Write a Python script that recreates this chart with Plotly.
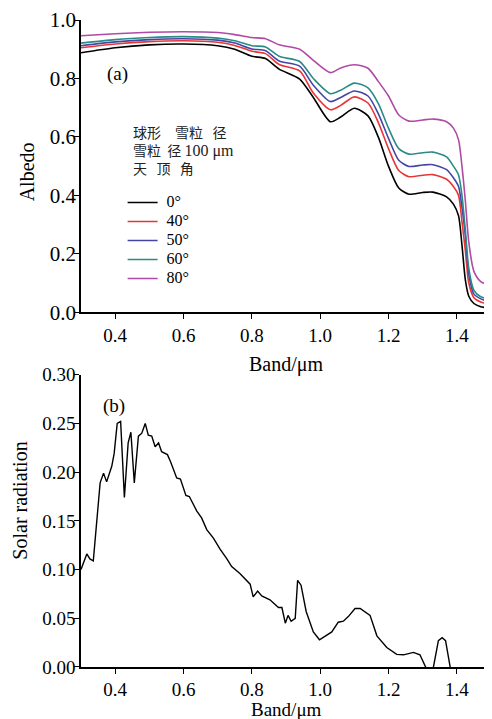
import plotly.graph_objects as go
from plotly.subplots import make_subplots

# ── (a) albedo vs band, spherical grains 100 µm, by zenith angle ─────────────
band_a = [0.30, 0.40, 0.50, 0.60, 0.70, 0.75, 0.80, 0.84, 0.88, 0.94, 0.98,
          1.03, 1.06, 1.10, 1.14, 1.17, 1.20, 1.23, 1.26, 1.30, 1.33, 1.37,
          1.39, 1.405, 1.415, 1.425, 1.435, 1.45, 1.47, 1.50]

albedo_0 = [0.888, 0.905, 0.915, 0.918, 0.912, 0.900, 0.876, 0.868, 0.832, 0.798, 0.735,
            0.652, 0.668, 0.698, 0.672, 0.600, 0.500, 0.425, 0.404, 0.410, 0.411, 0.395,
            0.370, 0.330, 0.230, 0.110, 0.055, 0.030, 0.019, 0.013]
albedo_40 = [0.905, 0.918, 0.926, 0.929, 0.924, 0.913, 0.893, 0.885, 0.848, 0.826, 0.750,
             0.693, 0.708, 0.737, 0.716, 0.650, 0.560, 0.485, 0.464, 0.469, 0.471, 0.455,
             0.430, 0.400, 0.310, 0.210, 0.100, 0.050, 0.035, 0.027]
albedo_50 = [0.912, 0.925, 0.933, 0.936, 0.931, 0.921, 0.901, 0.895, 0.860, 0.842, 0.777,
             0.721, 0.735, 0.757, 0.740, 0.680, 0.595, 0.520, 0.499, 0.504, 0.505, 0.488,
             0.460, 0.430, 0.360, 0.260, 0.130, 0.062, 0.046, 0.034]
albedo_60 = [0.921, 0.933, 0.940, 0.943, 0.938, 0.929, 0.912, 0.908, 0.876, 0.858, 0.800,
             0.748, 0.760, 0.784, 0.768, 0.715, 0.630, 0.560, 0.541, 0.546, 0.548, 0.532,
             0.500, 0.470, 0.400, 0.280, 0.150, 0.075, 0.053, 0.045]
albedo_80 = [0.946, 0.953, 0.958, 0.960, 0.957, 0.950, 0.940, 0.936, 0.915, 0.900, 0.862,
             0.820, 0.836, 0.847, 0.835, 0.790, 0.740, 0.675, 0.654, 0.658, 0.661, 0.652,
             0.630, 0.590, 0.500, 0.380, 0.240, 0.140, 0.105, 0.092]

angle_labels = ['0°', '40°', '50°', '60°', '80°']
angle_colors = ['#000000', '#e83535', '#4545a5', '#2a8a85', '#b04aa5']

# ── (b) solar radiation ──────────────────────────────────────────────────────
band_b = [0.300, 0.317, 0.326, 0.336, 0.356, 0.366, 0.375, 0.390, 0.397, 0.406,
          0.416, 0.427, 0.438, 0.446, 0.456, 0.468, 0.478, 0.488, 0.497, 0.507,
          0.517, 0.527, 0.536, 0.553, 0.563, 0.580, 0.591, 0.607, 0.617, 0.639,
          0.653, 0.668, 0.688, 0.707, 0.727, 0.741, 0.765, 0.795, 0.804, 0.817,
          0.829, 0.853, 0.878, 0.888, 0.898, 0.906, 0.915, 0.927, 0.934, 0.944,
          0.959, 0.980, 0.998, 1.015, 1.034, 1.053, 1.068, 1.083, 1.102, 1.117,
          1.129, 1.146, 1.166, 1.195, 1.224, 1.244, 1.273, 1.292, 1.310, 1.320,
          1.331, 1.346, 1.357, 1.367, 1.381, 1.390]
solar = [0.100, 0.116, 0.111, 0.109, 0.189, 0.199, 0.190, 0.206, 0.219, 0.250,
         0.252, 0.174, 0.230, 0.241, 0.189, 0.237, 0.240, 0.250, 0.238, 0.237,
         0.226, 0.230, 0.221, 0.218, 0.210, 0.194, 0.193, 0.176, 0.175, 0.160,
         0.153, 0.141, 0.132, 0.121, 0.111, 0.103, 0.096, 0.085, 0.072, 0.078,
         0.073, 0.069, 0.061, 0.061, 0.045, 0.053, 0.047, 0.050, 0.089, 0.084,
         0.057, 0.036, 0.028, 0.032, 0.036, 0.046, 0.047, 0.052, 0.060, 0.060,
         0.057, 0.053, 0.032, 0.020, 0.013, 0.0125, 0.015, 0.0125, -0.001, -0.006,
         -0.001, 0.027, 0.030, 0.027, -0.001, -0.006]

x_ticks = [0.4, 0.6, 0.8, 1.0, 1.2, 1.4]
FONT = 'Liberation Serif, Times New Roman, serif'
NB = '\u00a0'

fig = make_subplots(rows=2, cols=1, vertical_spacing=0.0965)

for lab, col, ys in zip(angle_labels, angle_colors,
                        [albedo_0, albedo_40, albedo_50, albedo_60, albedo_80]):
    fig.add_trace(go.Scatter(
        x=band_a, y=ys, mode='lines',
        # legend spacing follows the legend font; the label itself is drawn larger
        name=f'<span style="font-size:16px">{NB}{lab}</span>',
        line=dict(color=col, width=1.6, shape='spline', smoothing=0.7),
    ), row=1, col=1)

fig.add_trace(go.Scatter(
    x=band_b, y=solar, mode='lines', showlegend=False,
    line=dict(color='#000000', width=1.4),
), row=2, col=1)

axis_style = dict(showline=True, linecolor='black', linewidth=1.5, mirror=False,
                  ticks='outside', ticklen=5, tickwidth=1.3, tickcolor='black',
                  showgrid=False, zeroline=False, automargin=False,
                  tickfont=dict(family=FONT, size=19, color='black'))

fig.update_xaxes(range=[0.3, 1.5], tickvals=x_ticks, tickformat='.1f', **axis_style)
fig.update_xaxes(ticklabelstandoff=-1, row=2, col=1)
fig.update_yaxes(**axis_style)
fig.update_yaxes(range=[0, 1.0], dtick=0.2, tickformat='.1f', ticklabelstandoff=-6,
                 tickfont=dict(size=21), row=1, col=1)
fig.update_yaxes(range=[0, 0.30], dtick=0.05, tickformat='.2f', ticklabelstandoff=-5,
                 row=2, col=1)

# page body adds 8 px on the left/top, so the figure is 8 px smaller
fig.update_layout(
    width=484, height=711,
    margin=dict(l=73, r=1, t=12, b=52, autoexpand=False),
    plot_bgcolor='white', paper_bgcolor='white',
    font=dict(family=FONT, color='black'),
    showlegend=True,
    legend=dict(x=0.1015, y=0.7404, xanchor='left', yanchor='top',
                bgcolor='rgba(0,0,0,0)', borderwidth=0,
                font=dict(family=FONT, size=12, color='black'),
                tracegroupgap=0, itemwidth=30),
)

# axis titles and panel text
fig.add_annotation(text='Band/μm', xref='paper', yref='paper', x=0.5, y=0.467,
                   showarrow=False, font=dict(size=20), yanchor='middle')
fig.add_annotation(text='Band/μm', xref='paper', yref='paper', x=0.5, y=-0.065,
                   showarrow=False, font=dict(size=19), yanchor='middle')
fig.add_annotation(text='Albedo', xref='paper', yref='paper', x=-0.131, y=0.765,
                   textangle=-90, showarrow=False, font=dict(size=20),
                   xanchor='center', yanchor='middle')
fig.add_annotation(text='Solar radiation', xref='paper', yref='paper', x=-0.149, y=0.257,
                   textangle=-90, showarrow=False, font=dict(size=20),
                   xanchor='center', yanchor='middle')
fig.add_annotation(text='(a)', xref='paper', yref='paper', x=0.088, y=0.9166,
                   showarrow=False, font=dict(size=19), xanchor='center', yanchor='middle')
fig.add_annotation(text='(b)', xref='paper', yref='paper', x=0.081, y=0.404,
                   showarrow=False, font=dict(size=19), xanchor='center', yanchor='middle')
fig.add_annotation(
    text=(f'球形　雪粒{NB*3}径<br>'
          f'雪粒{NB*2}径{NB}<span style="font-family:Liberation Serif;font-size:16px">100 μm</span><br>'
          f'天{NB*3}顶{NB*3}角'),
    xref='paper', yref='paper', x=0.121, y=0.845, xanchor='left', yanchor='top',
    align='left', showarrow=False,
    font=dict(family='Noto Sans CJK SC', size=14, color='#222222'))

fig.write_html('out.html')
